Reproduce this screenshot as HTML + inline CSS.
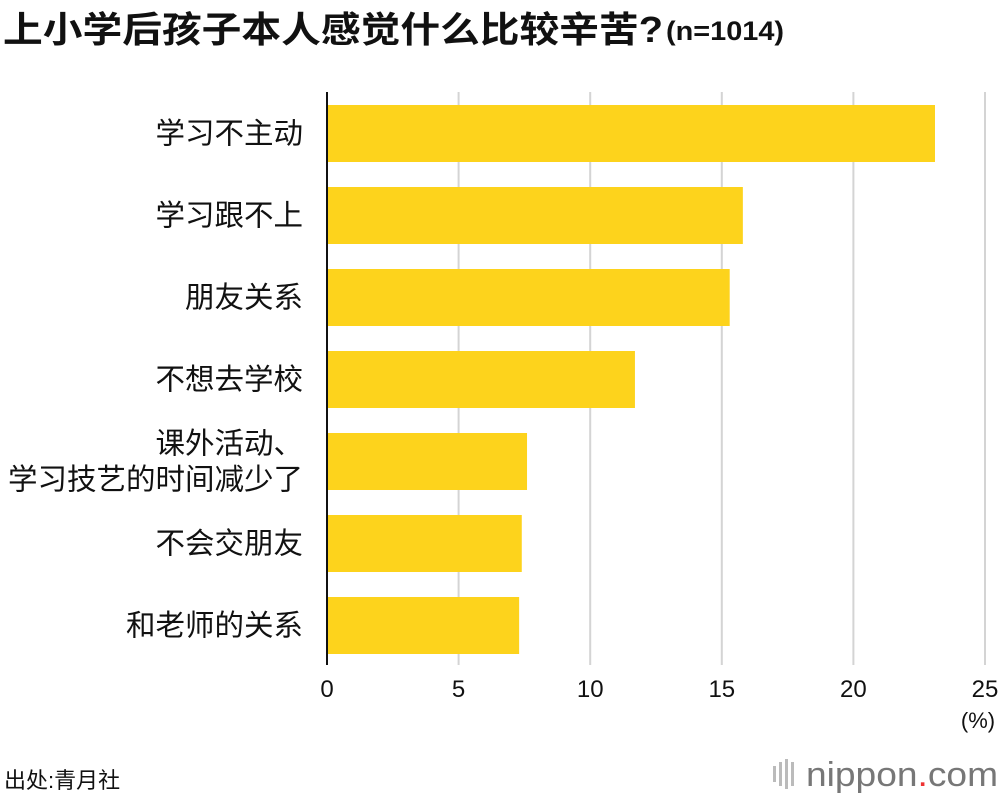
<!DOCTYPE html>
<html><head><meta charset="utf-8">
<style>
body{margin:0;background:#fff;width:1000px;height:796px;overflow:hidden;font-family:"Liberation Sans","Noto Sans CJK SC",sans-serif;}
</style></head>
<body>
<svg id="chart" width="1000" height="796" xmlns="http://www.w3.org/2000/svg" font-family="Liberation Sans, Noto Sans CJK SC, sans-serif">
<text x="3" y="42" font-size="36" font-weight="bold" fill="#111" textLength="660" lengthAdjust="spacingAndGlyphs">上小学后孩子本人感觉什么比较辛苦?</text>
<text x="666" y="40" font-size="27" font-weight="bold" fill="#111" textLength="118" lengthAdjust="spacingAndGlyphs">(n=1014)</text>
<g id="grid"></g>
<g id="bars"></g>
<g id="labels"></g>
<g id="ticks"></g>
<text x="978" y="728" font-size="22" text-anchor="middle" fill="#111">(%)</text>
<text x="4" y="788" font-size="22" fill="#111">出处:青月社</text>
<g>
<rect x="773" y="766" width="3" height="16" fill="#bbb"/><rect x="779" y="762" width="3" height="24" fill="#bbb"/><rect x="785" y="759" width="3" height="30" fill="#bbb"/><rect x="791" y="762" width="3" height="24" fill="#bbb"/>
<text x="806" y="786" font-size="34" fill="#777" textLength="192" lengthAdjust="spacingAndGlyphs">nippon<tspan fill="#e33">.</tspan>com</text>
</g>
</svg>
<script>
const categories=["学习不主动","学习跟不上","朋友关系","不想去学校","课外活动、|学习技艺的时间减少了","不会交朋友","和老师的关系"];
const values=[23.1,15.8,15.3,11.7,7.6,7.4,7.3];
const ticks=[0,5,10,15,20,25];
const NS="http://www.w3.org/2000/svg";
const x0=327,x1=985,xmax=25;
const xs=v=>x0+(x1-x0)*v/xmax;
const top0=105,pitch=82,bh=57;
function mk(t,a,p){const e=document.createElementNS(NS,t);for(const k in a)e.setAttribute(k,a[k]);p.appendChild(e);return e;}
const grid=document.getElementById('grid'),bars=document.getElementById('bars'),labels=document.getElementById('labels'),tk=document.getElementById('ticks');
ticks.forEach(t=>{
 if(t>0){const l=mk('line',{x1:xs(t),x2:xs(t),y1:92,y2:665,stroke:'#d4d4d4','stroke-width':2},grid);
 
 }
 const tx=mk('text',{x:xs(t),y:697,'font-size':24,'text-anchor':'middle',fill:'#111'},tk);
 tx.textContent=t;
 
 
});
values.forEach((v,i)=>{
 const y=top0+i*pitch;
 const r=mk('rect',{x:x0,y:y,width:xs(v)-x0,height:bh,fill:'#fdd31c'},bars);
 
 
 const parts=categories[i].split('|');
 parts.forEach((p,j)=>{
  const yy=y+bh/2+10+(parts.length>1?(j===0?-18:18):0);
  const t=mk('text',{x:303,y:yy,'font-size':29.5,'text-anchor':'end',fill:'#111'},labels);
  t.textContent=p;
  
  
 });
});
const ax=mk('line',{x1:x0,x2:x0,y1:92,y2:665,stroke:'#111','stroke-width':2},tk);


</script>
</body></html>
